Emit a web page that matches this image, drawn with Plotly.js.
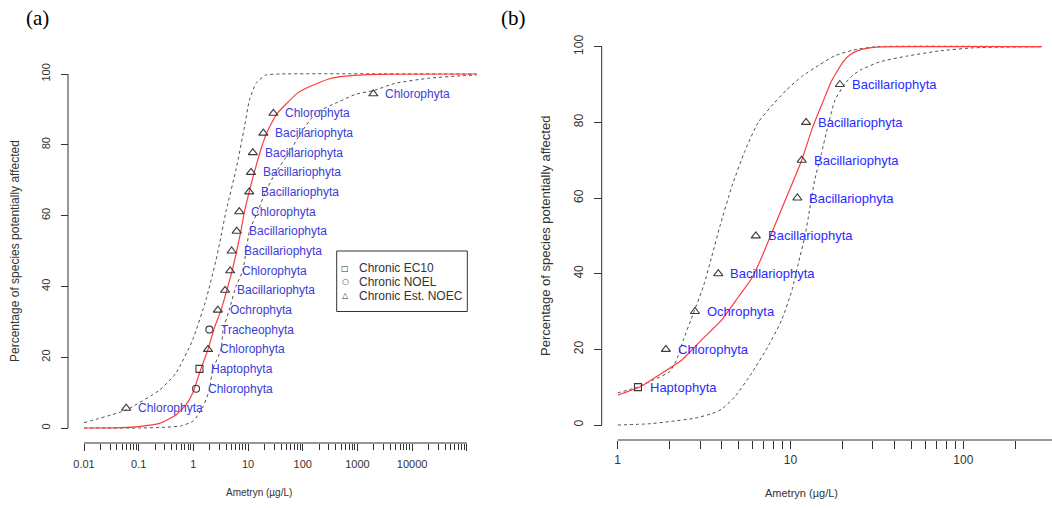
<!DOCTYPE html>
<html>
<head>
<meta charset="utf-8">
<script src="https://cdn.plot.ly/plotly-3.0.1.min.js"></script>
<style>html,body{margin:0;padding:0;background:#fff;}#chart{width:1052px;height:508px;}</style>
</head>
<body>
<div id="chart"></div>
<script>
// ---------- Panel (a) data ----------
const aSpecies = ['Chlorophyta','Chlorophyta','Haptophyta','Chlorophyta','Tracheophyta','Ochrophyta','Bacillariophyta','Chlorophyta','Bacillariophyta','Bacillariophyta','Chlorophyta','Bacillariophyta','Bacillariophyta','Bacillariophyta','Bacillariophyta','Chlorophyta','Chlorophyta'];
const aConc    = [0.059, 1.12, 1.29, 1.85, 1.96, 2.8, 3.8, 4.7, 5.0, 6.2, 6.9, 10.5, 11.3, 12.2, 19, 29, 1950];
const aPct     = [5.6, 11.1, 16.7, 22.2, 27.8, 33.3, 38.9, 44.4, 50.0, 55.6, 61.1, 66.7, 72.2, 77.8, 83.3, 88.9, 94.4];
const aType    = ['NOEC','NOEL','EC10','NOEC','NOEL','NOEC','NOEC','NOEC','NOEC','NOEC','NOEC','NOEC','NOEC','NOEC','NOEC','NOEC','NOEC'];

const aFitX   = [0.01, 0.05, 0.1, 0.24, 0.48, 0.73, 0.97, 1.35, 1.85, 2.35, 3.2, 4.1, 5.1, 6.2, 7.4, 8.6, 10.5, 13, 16.5, 22, 33, 50, 80, 141, 300, 600, 2500, 150000];
const aFitY   = [0, 0.1, 0.4, 1.3, 3.7, 6.5, 9.8, 16.4, 22.2, 27.7, 33.3, 39, 44.4, 50, 55.7, 61.2, 66.8, 72.2, 77.9, 83.4, 88.6, 91.6, 94.6, 96.6, 98.6, 99.4, 99.9, 100];
const aUpX    = [0.01, 0.059, 0.24, 0.48, 0.97, 1.7, 2.6, 3.0, 4.0, 6.0, 8.6, 10.6, 14, 21, 37, 150000];
const aUpY    = [1.5, 5.1, 10.7, 15.5, 24.9, 36.2, 47.5, 52, 61.6, 72.9, 85.1, 92.7, 97.4, 99.7, 100, 100];
const aLoX    = [0.01, 0.1, 0.3, 0.6, 1.0, 1.5, 1.96, 2.25, 3.2, 3.5, 4.5, 6.0, 8.0, 9.2, 10.6, 15, 21, 32, 57, 93, 175, 460, 940, 1950, 5000, 20000, 80000, 150000];
const aLoY    = [0, 0, 0.2, 0.6, 2.0, 6.0, 10.8, 16.4, 22.2, 27.7, 33.3, 40, 44.4, 50, 55.7, 61.2, 66.8, 72.2, 77.9, 83.4, 89, 92.2, 94.3, 95.3, 97.4, 98.8, 99.5, 99.7];

const aTickVals = [0.01, 0.1, 1, 10, 100, 1000, 10000, 100000];
const aTickText = ['0.01', '0.1', '1', '10', '100', '1000', '10000', ''];

// ---------- Panel (b) data ----------
const bSpecies = ['Haptophyta','Chlorophyta','Ochrophyta','Bacillariophyta','Bacillariophyta','Bacillariophyta','Bacillariophyta','Bacillariophyta','Bacillariophyta'];
const bConc    = [1.31, 1.90, 2.8, 3.82, 6.3, 10.96, 11.6, 12.3, 19.3];
const bPct     = [10, 20, 30, 40, 50, 60, 70, 80, 90];
const bType    = ['EC10','NOEC','NOEC','NOEC','NOEC','NOEC','NOEC','NOEC','NOEC'];

const bFitX   = [1.0, 1.35, 1.8, 2.35, 3.06, 4.0, 5.0, 6.0, 6.8, 7.5, 8.5, 9.6, 11.6, 13.5, 15.9, 17.0, 18.5, 20.0, 22.0, 25.0, 31.6, 50, 100, 284];
const bFitY   = [7.9, 10.1, 13.7, 17.2, 22.5, 27.8, 33.9, 39.0, 44.3, 49.0, 55.0, 60.8, 70.0, 79.0, 87.0, 90.3, 93.3, 95.8, 97.8, 99.1, 99.9, 100, 100, 100];
const bUpX    = [1.0, 1.3, 1.61, 2.0, 2.19, 2.4, 2.74, 3.13, 3.5, 3.9, 4.57, 5.45, 6.5, 8.0, 9.5, 11.6, 14.8, 18, 23, 31.6, 284];
const bUpY    = [8.5, 10.0, 11.9, 14.1, 17.2, 22.5, 29.5, 36.6, 44.5, 52.5, 63, 72.5, 80, 85, 88.6, 92.1, 95.3, 97.6, 99.1, 100, 100];
const bLoX    = [1.0, 1.5, 2.0, 2.8, 3.5, 4.0, 4.77, 5.96, 7.4, 8.9, 10.2, 11.1, 12.1, 12.7, 13.8, 15.1, 16.6, 18.1, 20.7, 23, 25.3, 32.8, 47, 73, 114, 284];
const bLoY    = [0, 0.3, 0.9, 1.8, 3.0, 4.2, 7.5, 13.7, 20.7, 27.8, 35.7, 42.7, 49.8, 55.1, 64.8, 71.8, 79.7, 85.9, 90.3, 92.5, 93.8, 96.0, 97.5, 98.9, 99.7, 100];

const bTickVals = [1, 10, 100];
const bTickText = ['1', '10', '100'];

const legendLabels = ['Chronic EC10', 'Chronic NOEL', 'Chronic Est. NOEC'];
const legendGlyphs = ['\u25A1', '\u25CB', '\u25B3'];

// ---------- helpers ----------
const W = 1052, H = 508;
const PX = x => x / W;
const PY = y => 1 - y / H;
const FONT = 'Liberation Sans, Arial, sans-serif';
const INK = '#333333';
const symbolOf = {EC10: 'square-open', NOEL: 'circle-open', NOEC: 'triangle-up-open'};
const sizeOf = {EC10: 7, NOEL: 7, NOEC: 8};

function minorTicks(fromExp, toExp, maxVal) {
  const v = [];
  for (let e = fromExp; e <= toExp; e++) {
    for (let m = 2; m <= 9; m++) {
      const t = m * Math.pow(10, e);
      if (t <= maxVal) v.push(t);
    }
  }
  return v;
}

function pointTraces(conc, pct, type, xa, ya) {
  const out = [];
  ['EC10', 'NOEL', 'NOEC'].forEach(k => {
    const xs = [], ys = [];
    conc.forEach((c, i) => { if (type[i] === k) { xs.push(c); ys.push(pct[i]); } });
    if (xs.length) out.push({
      x: xs, y: ys, xaxis: xa, yaxis: ya, type: 'scatter', mode: 'markers',
      marker: {symbol: symbolOf[k], size: sizeOf[k], color: '#3a3a3a', line: {width: 1.1, color: '#3a3a3a'}},
      showlegend: false, hoverinfo: 'skip'
    });
  });
  return out;
}

function curve(x, y, xa, ya, style) {
  return {x: x, y: y, xaxis: xa, yaxis: ya, type: 'scatter', mode: 'lines', line: style, showlegend: false, hoverinfo: 'skip'};
}

const redLine = {color: '#ff3b3b', width: 1.2, shape: 'spline', smoothing: 0.5};
const dashLine = {color: '#4d4d4d', width: 1, dash: '3px,3px', shape: 'spline', smoothing: 0.5};

const traces = [
  curve(aUpX, aUpY, 'x', 'y', dashLine),
  curve(aLoX, aLoY, 'x', 'y', dashLine),
  curve(aFitX, aFitY, 'x', 'y', redLine),
  curve(bUpX, bUpY, 'x2', 'y2', dashLine),
  curve(bLoX, bLoY, 'x2', 'y2', dashLine),
  curve(bFitX, bFitY, 'x2', 'y2', redLine),
  ...pointTraces(aConc, aPct, aType, 'x', 'y'),
  ...pointTraces(bConc, bPct, bType, 'x2', 'y2')
];

const annotations = [];
aSpecies.forEach((s, i) => annotations.push({
  xref: 'x', yref: 'y', x: Math.log10(aConc[i]), y: aPct[i], text: s, showarrow: false,
  xanchor: 'left', yanchor: 'middle', xshift: 10, font: {family: FONT, size: 12, color: '#3c3cd8'}
}));
bSpecies.forEach((s, i) => annotations.push({
  xref: 'x2', yref: 'y2', x: Math.log10(bConc[i]), y: bPct[i], text: s, showarrow: false,
  xanchor: 'left', yanchor: 'middle', xshift: 10, font: {family: FONT, size: 13, color: '#2b2bff'}
}));

// titles and panel labels
annotations.push(
  {xref: 'paper', yref: 'paper', x: PX(37), y: PY(18), text: '(a)', showarrow: false, xanchor: 'center', yanchor: 'middle', font: {family: 'Liberation Serif, Times New Roman, serif', size: 21, color: '#000'}},
  {xref: 'paper', yref: 'paper', x: PX(513), y: PY(18), text: '(b)', showarrow: false, xanchor: 'center', yanchor: 'middle', font: {family: 'Liberation Serif, Times New Roman, serif', size: 21, color: '#000'}},
  {xref: 'paper', yref: 'paper', x: PX(259), y: PY(492), text: 'Ametryn (\u00b5g/L)', showarrow: false, xanchor: 'center', yanchor: 'middle', font: {family: FONT, size: 10, color: INK}},
  {xref: 'paper', yref: 'paper', x: PX(801.5), y: PY(493), text: 'Ametryn (\u00b5g/L)', showarrow: false, xanchor: 'center', yanchor: 'middle', font: {family: FONT, size: 11, color: INK}},
  {xref: 'paper', yref: 'paper', x: PX(15), y: PY(251), text: 'Percentage of species potentially affected', textangle: -90, showarrow: false, xanchor: 'center', yanchor: 'middle', font: {family: FONT, size: 12, color: INK}},
  {xref: 'paper', yref: 'paper', x: PX(545), y: PY(236), text: 'Percentage of species potentially affected', textangle: -90, showarrow: false, xanchor: 'center', yanchor: 'middle', font: {family: FONT, size: 13, color: INK}}
);

// custom legend for panel (a)
const legRows = [268.3, 281.7, 295.7];
legendLabels.forEach((lab, i) => {
  annotations.push({xref: 'paper', yref: 'paper', x: PX(345), y: PY(legRows[i]), text: legendGlyphs[i], showarrow: false, xanchor: 'center', yanchor: 'middle', font: {family: 'DejaVu Sans', size: 8, color: INK}});
  annotations.push({xref: 'paper', yref: 'paper', x: PX(357), y: PY(legRows[i]), text: lab, showarrow: false, xanchor: 'left', yanchor: 'middle', font: {family: FONT, size: 12, color: INK}});
});

const axisLine = {color: INK, width: 1};
const shapes = [
  {type: 'line', xref: 'paper', yref: 'paper', x0: PX(84), x1: PX(467), y0: PY(443), y1: PY(443), line: axisLine},
  {type: 'line', xref: 'paper', yref: 'paper', x0: PX(68), x1: PX(68), y0: PY(428), y1: PY(74), line: axisLine},
  {type: 'line', xref: 'paper', yref: 'paper', x0: PX(617.7), x1: 1, y0: PY(440), y1: PY(440), line: axisLine},
  {type: 'line', xref: 'paper', yref: 'paper', x0: PX(601.7), x1: PX(601.7), y0: PY(425), y1: PY(46.7), line: axisLine},
  {type: 'rect', xref: 'paper', yref: 'paper', x0: PX(336.7), x1: PX(467.3), y0: PY(311.5), y1: PY(251), line: {color: INK, width: 1}, fillcolor: 'rgba(0,0,0,0)'}
];

const tickFontA = {family: FONT, size: 11, color: INK};
const tickFontB = {family: FONT, size: 12, color: INK};

const layout = {
  width: W, height: H,
  margin: {l: 0, r: 0, t: 0, b: 0, pad: 0},
  paper_bgcolor: '#ffffff', plot_bgcolor: 'rgba(0,0,0,0)',
  showlegend: false,
  xaxis: {
    type: 'log', domain: [PX(84), PX(477.8)], range: [-2, 5.2], anchor: 'free', position: PY(443),
    showline: false, showgrid: false, zeroline: false,
    ticks: 'outside', ticklen: 7, tickwidth: 1, tickcolor: INK, ticklabelstandoff: 4,
    tickmode: 'array', tickvals: aTickVals, ticktext: aTickText, tickfont: tickFontA,
    minor: {tickmode: 'array', tickvals: minorTicks(-2, 4, 100000), ticks: 'outside', ticklen: 6, tickwidth: 1, tickcolor: INK, showgrid: false}
  },
  yaxis: {
    domain: [PY(435.08), PY(66.92)], range: [-2, 102], anchor: 'free', position: PX(68),
    showline: false, showgrid: false, zeroline: false,
    ticks: 'outside', ticklen: 7, tickwidth: 1, tickcolor: INK, ticklabelstandoff: 7,
    tickmode: 'array', tickvals: [0, 20, 40, 60, 80, 100], tickangle: -90, tickfont: tickFontA
  },
  xaxis2: {
    type: 'log', domain: [PX(617.7), 1], range: [0, 2.513], anchor: 'free', position: PY(440),
    showline: false, showgrid: false, zeroline: false,
    ticks: 'outside', ticklen: 8, tickwidth: 1, tickcolor: INK, ticklabelstandoff: 1,
    tickmode: 'array', tickvals: bTickVals, ticktext: bTickText, tickfont: tickFontB,
    minor: {tickmode: 'array', tickvals: minorTicks(0, 2, 200), ticks: 'outside', ticklen: 8, tickwidth: 1, tickcolor: INK, showgrid: false}
  },
  yaxis2: {
    domain: [PY(432.57), PY(39.13)], range: [-2, 102], anchor: 'free', position: PX(601.7),
    showline: false, showgrid: false, zeroline: false,
    ticks: 'outside', ticklen: 8, tickwidth: 1, tickcolor: INK, ticklabelstandoff: 6,
    tickmode: 'array', tickvals: [0, 20, 40, 60, 80, 100], tickangle: -90, tickfont: tickFontB
  },
  annotations: annotations,
  shapes: shapes
};

Plotly.newPlot('chart', traces, layout, {staticPlot: true, displayModeBar: false});
</script>
</body>
</html>
